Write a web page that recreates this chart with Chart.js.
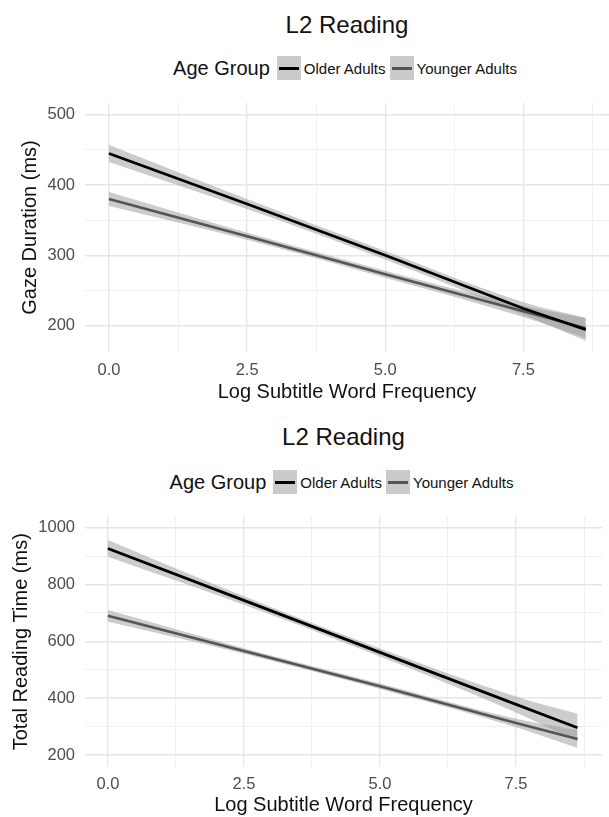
<!DOCTYPE html>
<html>
<head>
<meta charset="utf-8">
<script src="https://cdn.jsdelivr.net/npm/chart.js@4.4.1/dist/chart.umd.min.js"></script>
<style>
  body { margin: 0; background: #fff; font-family: "Liberation Sans", Arial, sans-serif; }
  .wrap { position: relative; width: 609px; height: 817px; overflow: hidden; }
  canvas { position: absolute; left: 0; }
  .title { position: absolute; left: 0; text-align: center; font-size: 24px; line-height: 28px; color: #111; }
  .legend { position: absolute; left: 0; height: 24px; display: flex; justify-content: center; align-items: center; color: #111; }
  .legend .name { font-size: 20px; margin-right: 7px; }
  .legend .key { position: relative; width: 24px; height: 24px; background: #cbcbcb; margin-right: 3px; }
  .legend .key::after { content: ''; position: absolute; left: 2px; right: 2px; top: 10.5px; height: 3px; background: var(--c); }
  .legend .lab { font-size: 15px; margin-right: 4px; }
</style>
</head>
<body>
<div class="wrap">
  <div class="title" style="top:11px; width:694px;">L2 Reading</div>
  <div class="legend" style="top:56px; width:694px;">
    <span class="name">Age Group</span>
    <span class="key" style="--c:#000"></span><span class="lab">Older Adults</span>
    <span class="key" style="--c:#555"></span><span class="lab">Younger Adults</span>
  </div>
  <canvas id="gazeChart" width="609" height="410" style="top:0"></canvas>

  <div class="title" style="top:423px; width:687px;">L2 Reading</div>
  <div class="legend" style="top:470px; width:687px;">
    <span class="name">Age Group</span>
    <span class="key" style="--c:#000"></span><span class="lab">Older Adults</span>
    <span class="key" style="--c:#555"></span><span class="lab">Younger Adults</span>
  </div>
  <canvas id="totalChart" width="609" height="407" style="top:410px"></canvas>
</div>

<script>
// Log subtitle word frequency where the fitted lines are sampled
const freqX = [0, 2.5, 5, 7.5, 8.63];

// Gaze duration (ms): fitted line and ribbon bounds
const gazeOlder     = [445, 373, 300, 224, 194];
const gazeOlderLo   = [433, 366, 294, 215, 178];
const gazeOlderHi   = [457, 380, 306, 233, 211];
const gazeYounger   = [380, 327, 273, 220, 196];
const gazeYoungerLo = [370, 322, 268, 212, 182];
const gazeYoungerHi = [390, 332, 278, 228, 210];

// Total reading time (ms): fitted line and ribbon bounds
const totalOlder     = [927, 744, 561, 378, 296];
const totalOlderLo   = [898, 729, 547, 350, 248];
const totalOlderHi   = [957, 759, 575, 406, 345];
const totalYounger   = [690, 566, 442, 313, 256];
const totalYoungerLo = [670, 556, 432, 298, 225];
const totalYoungerHi = [710, 576, 452, 328, 288];

// Tick values (major get labels, minor only gridlines)
const xMajor = [0, 2.5, 5, 7.5];
const xMinor = [1.25, 3.75, 6.25, 8.75];
const gazeMajor = [200, 300, 400, 500];
const gazeMinor = [250, 350, 450];
const totalMajor = [200, 400, 600, 800, 1000];
const totalMinor = [300, 500, 700, 900];

const BAND = 'rgba(153,153,153,0.5)';
const FONT = '"Liberation Sans", Arial, sans-serif';

function pts(ys) {
    return freqX.map((x, i) => ({ x: x, y: ys[i] }));
}

function bound(ys, fill) {
    return {
        data: pts(ys), borderWidth: 0, pointRadius: 0,
        fill: fill, backgroundColor: BAND, borderColor: 'transparent',
        cubicInterpolationMode: 'monotone'
    };
}

function gridStyle(major) {
    return {
        color: ctx => major.includes(ctx.tick && ctx.tick.value) ? '#e6e6e6' : '#eeeeee',
        lineWidth: ctx => major.includes(ctx.tick && ctx.tick.value) ? 1.4 : 0.9,
        drawTicks: false
    };
}

function makeChart(id, cfg) {
    const ctx = document.getElementById(id).getContext('2d');
    return new Chart(ctx, {
        type: 'line',
        data: {
            datasets: [
                { data: pts(cfg.older), borderColor: '#000', borderWidth: 2.8, pointRadius: 0, fill: false },
                { data: pts(cfg.younger), borderColor: '#555', borderWidth: 2.6, pointRadius: 0, fill: false },
                bound(cfg.olderHi, false),
                bound(cfg.olderLo, '-1'),
                bound(cfg.youngerHi, false),
                bound(cfg.youngerLo, '-1')
            ]
        },
        options: {
            responsive: false,
            animation: false,
            devicePixelRatio: 1,
            events: [],
            layout: { padding: { top: cfg.padTop, right: cfg.padRight, left: 0, bottom: 0 } },
            plugins: {
                legend: { display: false },
                tooltip: { enabled: false },
                filler: { drawTime: 'beforeDatasetsDraw' }
            },
            scales: {
                x: {
                    type: 'linear',
                    min: cfg.xMin, max: cfg.xMax,
                    afterBuildTicks: axis => { axis.ticks = xMajor.concat(xMinor).sort((a, b) => a - b).map(v => ({ value: v })); },
                    afterFit: axis => { axis.height = cfg.xAxisHeight; },
                    grid: gridStyle(xMajor),
                    border: { display: false },
                    ticks: {
                        autoSkip: false, maxRotation: 0, padding: cfg.xTickPad,
                        color: '#4d4d4d', font: { family: FONT, size: 16.5 },
                        callback: v => xMajor.includes(v) ? v.toFixed(1) : ''
                    },
                    title: {
                        display: true, text: 'Log Subtitle Word Frequency', color: '#111',
                        font: { family: FONT, size: 20 },
                        padding: { top: 0, bottom: cfg.xTitlePad }
                    }
                },
                y: {
                    min: cfg.yMin, max: cfg.yMax,
                    afterBuildTicks: axis => { axis.ticks = cfg.yMajor.concat(cfg.yMinor).sort((a, b) => a - b).map(v => ({ value: v })); },
                    afterFit: axis => { axis.width = 85; },
                    grid: gridStyle(cfg.yMajor),
                    border: { display: false },
                    ticks: {
                        autoSkip: false, padding: 10,
                        color: '#4d4d4d', font: { family: FONT, size: 16.5 },
                        callback: v => cfg.yMajor.includes(v) ? String(v) : ''
                    },
                    title: {
                        display: true, text: cfg.yTitle, color: '#111',
                        font: { family: FONT, size: 20 },
                        padding: { top: cfg.yTitlePad, bottom: 0 }
                    }
                }
            }
        }
    });
}

makeChart('gazeChart', {
    older: gazeOlder, olderLo: gazeOlderLo, olderHi: gazeOlderHi,
    younger: gazeYounger, youngerLo: gazeYoungerLo, youngerHi: gazeYoungerHi,
    yMajor: gazeMajor, yMinor: gazeMinor, yMin: 162, yMax: 517,
    xMin: -0.434, xMax: 9.05,
    yTitle: 'Gaze Duration (ms)', yTitlePad: 18,
    padTop: 103, padRight: 0, xAxisHeight: 58, xTickPad: 9, xTitlePad: 6
});

makeChart('totalChart', {
    older: totalOlder, olderLo: totalOlderLo, olderHi: totalOlderHi,
    younger: totalYounger, youngerLo: totalYoungerLo, youngerHi: totalYoungerHi,
    yMajor: totalMajor, yMinor: totalMinor, yMin: 158.8, yMax: 1038.7,
    xMin: -0.42, xMax: 9.08,
    yTitle: 'Total Reading Time (ms)', yTitlePad: 9,
    padTop: 106.7, padRight: 7, xAxisHeight: 50.3, xTickPad: 8, xTitlePad: 0
});
</script>
</body>
</html>
